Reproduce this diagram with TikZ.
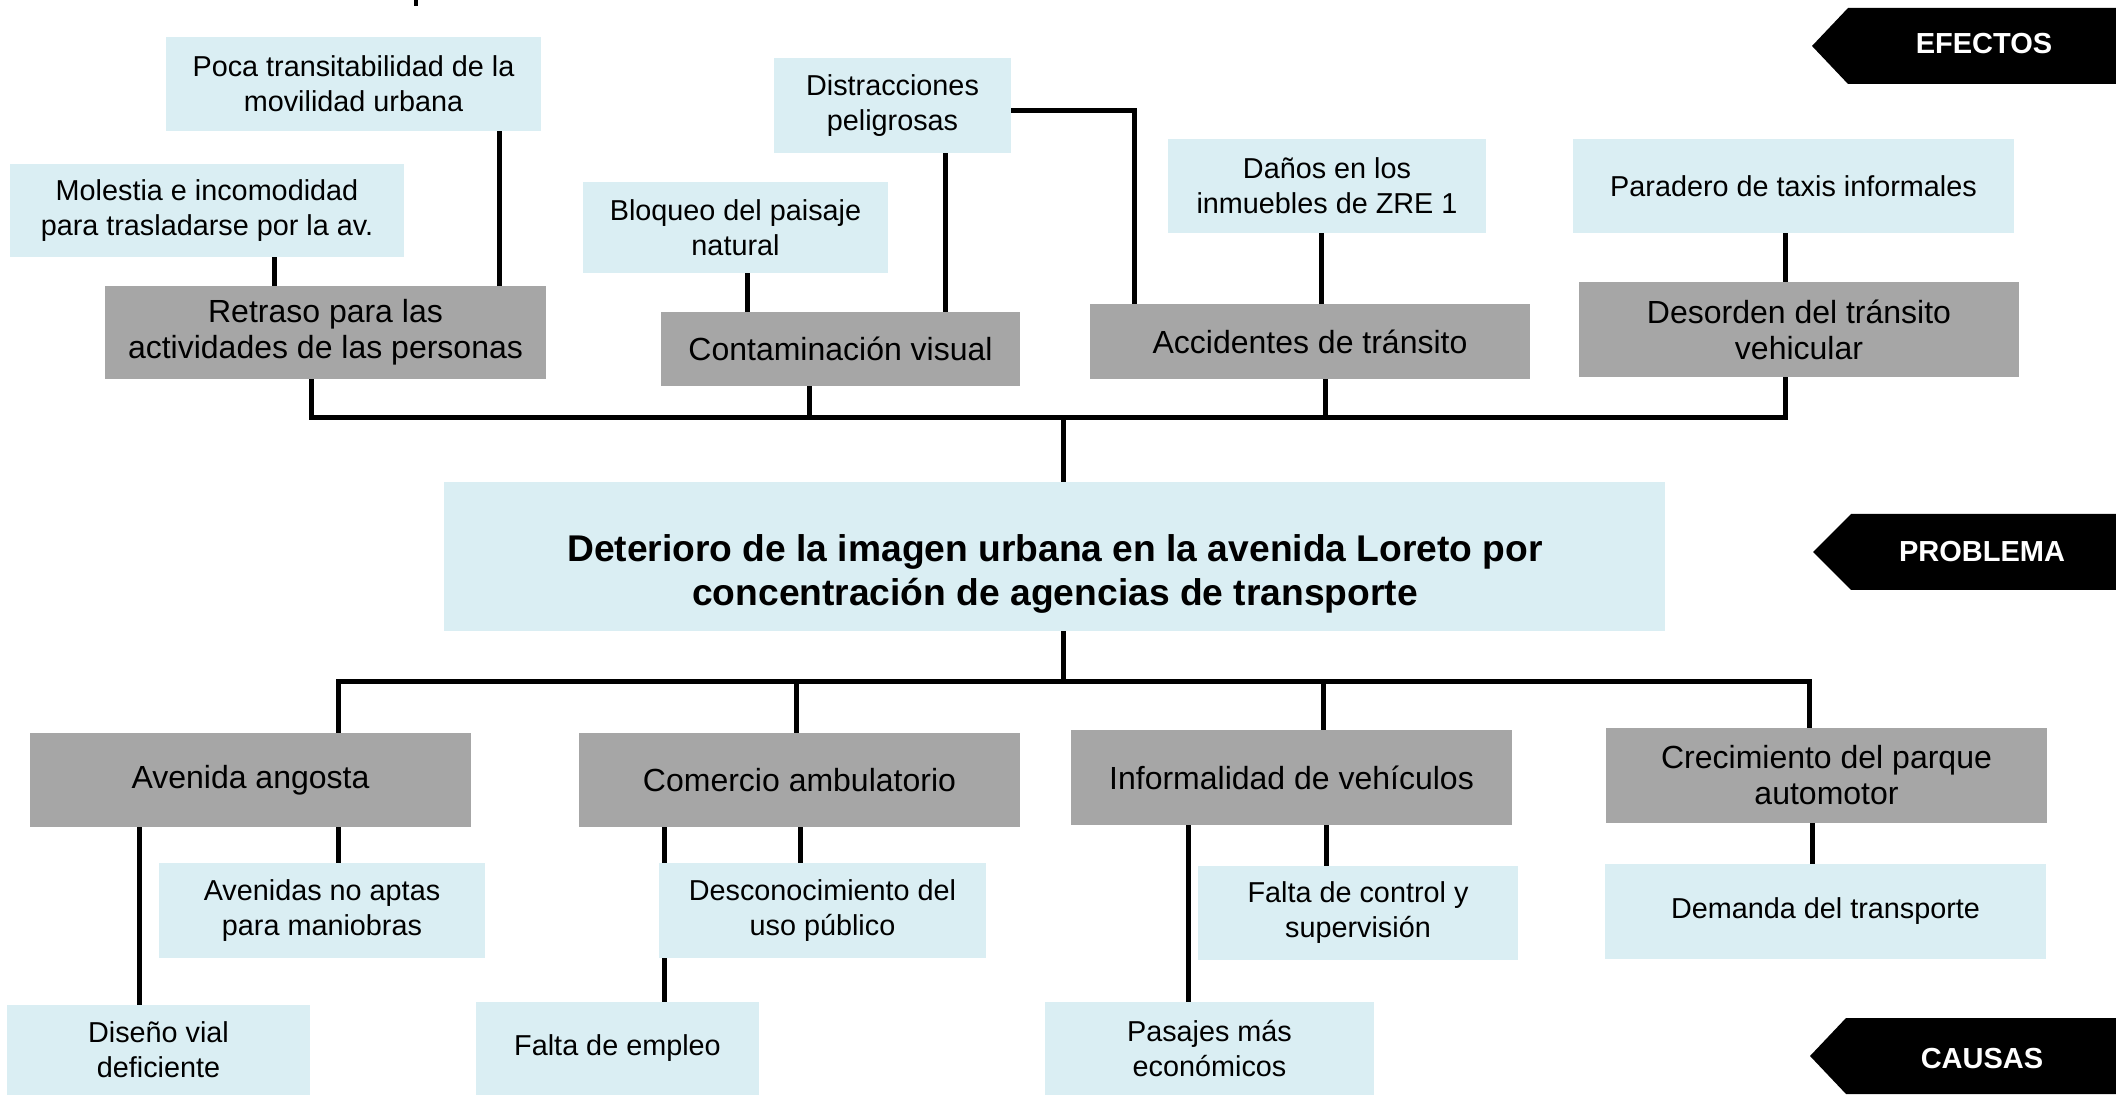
\documentclass[tikz,border=0pt]{standalone}
\usepackage{fontspec}
\setmainfont{Liberation Sans}
\usetikzlibrary{backgrounds}
\definecolor{lblue}{RGB}{218,238,243}
\definecolor{gbox}{RGB}{166,166,166}
\tikzset{
  lb/.style={fill=lblue, inner sep=0pt, align=center, font=\fontsize{14.4}{17.5}\selectfont},
  gb/.style={fill=gbox, inner sep=0pt, align=center, font=\fontsize{16}{18}\selectfont},
  pb/.style={fill=lblue, inner sep=0pt},
  pbtxt/.style={inner sep=0pt, align=center, font=\bfseries\fontsize{18.6}{22}\selectfont},
  ln/.style={line width=2.5pt, black},
  tagtxt/.style={text=white, inner sep=0pt, font=\bfseries\fontsize{14.5}{17}\selectfont}
}
% box from pixel corners: style, name, x1, y1, x2, y2, text
\newcommand\pxbox[7]{\node[#1, minimum width={(#5-#3)*0.5pt}, minimum height={(#6-#4)*0.5pt}] (#2) at ({(#3+#5)/2},{(#4+#6)/2}) {#7};}
\begin{document}
\begin{tikzpicture}[x=0.5pt,y=-0.5pt]
\useasboundingbox (0,0) rectangle (2116,1095);
% effects
\pxbox{lb}{poca}{166}{37}{541}{131}{Poca transitabilidad de la\\movilidad urbana}
\pxbox{lb}{molestia}{10}{164}{404}{257}{Molestia e incomodidad\\para trasladarse por la av.}
\pxbox{gb}{retraso}{105}{286}{546}{379}{Retraso para las\\actividades de las personas}
\pxbox{lb}{bloqueo}{583}{182}{888}{273}{Bloqueo del paisaje\\natural}
\pxbox{gb}{cont}{661}{312}{1020}{386}{Contaminación visual}
\pxbox{lb}{distr}{774}{58}{1011}{153}{Distracciones\\peligrosas}
\pxbox{lb}{danos}{1168}{139}{1486}{233}{Daños en los\\inmuebles de ZRE 1}
\pxbox{lb}{paradero}{1573}{139}{2014}{233}{Paradero de taxis informales}
\pxbox{gb}{acc}{1090}{304}{1530}{379}{Accidentes de tránsito}
\pxbox{gb}{des}{1579}{282}{2019}{377}{Desorden del tránsito\\vehicular}
% problem
\pxbox{pb}{prob}{444}{482}{1665}{631}{}
\node[pbtxt] (probtxt) at (1055,574) {Deterioro de la imagen urbana en la avenida Loreto por\\concentración de agencias de transporte};
% causes
\pxbox{gb}{aven}{30}{733}{471}{827}{Avenida angosta}
\pxbox{gb}{com}{579}{733}{1020}{827}{Comercio ambulatorio}
\pxbox{gb}{inf}{1071}{730}{1512}{825}{Informalidad de vehículos}
\pxbox{gb}{crec}{1606}{728}{2047}{823}{Crecimiento del parque\\automotor}
\pxbox{lb}{noaptas}{159}{863}{485}{958}{Avenidas no aptas\\para maniobras}
\pxbox{lb}{desc}{659}{863}{986}{958}{Desconocimiento del\\uso público}
\pxbox{lb}{control}{1198}{866}{1518}{960}{Falta de control y\\supervisión}
\pxbox{lb}{demanda}{1605}{864}{2046}{959}{Demanda del transporte}
\pxbox{lb}{diseno}{7}{1005}{310}{1095}{Diseño vial\\deficiente}
\pxbox{lb}{empleo}{476}{1002}{759}{1095}{Falta de empleo}
\pxbox{lb}{pasajes}{1045}{1002}{1374}{1095}{Pasajes más\\económicos}
% connectors
\begin{scope}[on background layer]
\draw[ln] (274,0 |- molestia.south) -- (274,0 |- retraso.north);
\draw[ln] (499,0 |- poca.south) -- (499,0 |- retraso.north);
\draw[ln] (747,0 |- bloqueo.south) -- (747,0 |- cont.north);
\draw[ln] (945,0 |- distr.south) -- (945,0 |- cont.north);
\draw[ln] (distr.east |- 0,111) -- (1134,111) -- (1134,0 |- acc.north);
\draw[ln] (1321,0 |- danos.south) -- (1321,0 |- acc.north);
\draw[ln] (1785,0 |- paradero.south) -- (1785,0 |- des.north);
\draw[ln] (311,0 |- retraso.south) -- (311,418) -- (1785,418) -- (1785,0 |- des.south);
\draw[ln] (809,0 |- cont.south) -- (809,418);
\draw[ln] (1325,0 |- acc.south) -- (1325,418);
\draw[ln] (1063,418) -- (1063,0 |- prob.north);
\draw[ln] (1063,0 |- prob.south) -- (1063,682);
\draw[ln] (338,0 |- aven.north) -- (338,682) -- (1809,682) -- (1809,0 |- crec.north);
\draw[ln] (796,682) -- (796,0 |- com.north);
\draw[ln] (1323,682) -- (1323,0 |- inf.north);
\draw[ln] (139,0 |- aven.south) -- (139,0 |- diseno.north);
\draw[ln] (338,0 |- aven.south) -- (338,0 |- noaptas.north);
\draw[ln] (664,0 |- com.south) -- (664,0 |- empleo.north);
\draw[ln] (800,0 |- com.south) -- (800,0 |- desc.north);
\draw[ln] (1188,0 |- inf.south) -- (1188,0 |- pasajes.north);
\draw[ln] (1326,0 |- inf.south) -- (1326,0 |- control.north);
\draw[ln] (1812,0 |- crec.south) -- (1812,0 |- demanda.north);
\end{scope}
% tags
\fill (1848,8) -- (2116,8) -- (2116,84) -- (1848,84) -- (1812,46) -- cycle;
\node[tagtxt] (efectos) at (1984,44) {EFECTOS};
\fill (1851,514) -- (2116,514) -- (2116,590) -- (1851,590) -- (1813,552) -- cycle;
\node[tagtxt] (problema) at (1982,552) {PROBLEMA};
\fill (1846,1018) -- (2116,1018) -- (2116,1094) -- (1846,1094) -- (1810,1056) -- cycle;
\node[tagtxt] (causas) at (1982,1059) {CAUSAS};
% clipped glyph fragment at top
\fill (414,0) rectangle (418,6);
\end{tikzpicture}
\end{document}
